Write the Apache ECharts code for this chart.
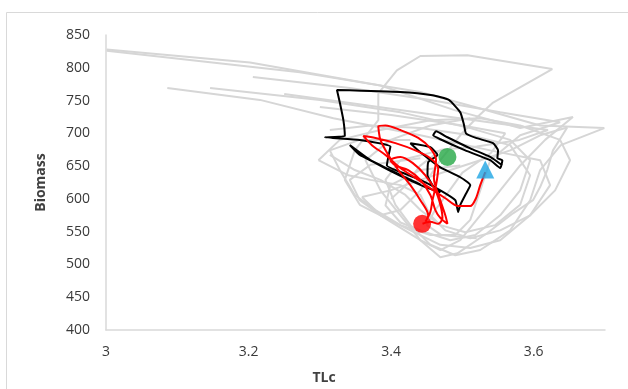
<!DOCTYPE html>
<html>
<head>
<meta charset="utf-8">
<script src="https://cdn.jsdelivr.net/npm/echarts@6/dist/echarts.min.js"></script>
<style>
html,body{margin:0;padding:0;background:#fff;}
#chart{width:628px;height:389px;}
</style>
</head>
<body>
<div id="chart"></div>
<script>
// Axis settings
var xTicks = [3, 3.2, 3.4, 3.6];
var yTicks = [400, 450, 500, 550, 600, 650, 700, 750, 800, 850];

// Gray background trajectories [TLc, Biomass]
var gray1 = [[3.001,828],[3.202,808],[3.385,773],[3.490,735],[3.581,708],[3.655,725],[3.616,690],[3.581,651],[3.553,613],[3.525,575],[3.497,537],[3.469,522],[3.441,537],[3.413,575],[3.385,613],[3.364,659],[3.399,690],[3.455,712],[3.511,723]];
var gray2 = [[3.001,826],[3.272,793],[3.441,763],[3.525,738],[3.609,712],[3.699,708],[3.638,682],[3.609,644],[3.595,598],[3.567,552],[3.525,522],[3.490,514],[3.455,530],[3.427,560],[3.406,591],[3.392,629],[3.413,659],[3.469,674]];
var gray3 = [[3.086,769],[3.216,751],[3.319,723],[3.441,697],[3.539,674],[3.609,659],[3.623,621],[3.595,575],[3.553,537],[3.511,525],[3.469,530],[3.427,552],[3.385,575],[3.356,598],[3.342,629],[3.371,652],[3.441,662]];
var gray4 = [[3.146,769],[3.300,751],[3.413,732],[3.511,708],[3.567,690],[3.595,659],[3.581,613],[3.553,575],[3.518,545],[3.483,537],[3.448,549],[3.413,564],[3.392,590],[3.399,621],[3.441,644],[3.497,651]];
var gray5 = [[3.206,786],[3.342,769],[3.455,751],[3.553,732],[3.637,717],[3.581,697],[3.539,659],[3.525,613],[3.511,568],[3.490,545],[3.455,545],[3.413,560],[3.378,583],[3.349,606],[3.328,644],[3.314,674],[3.356,690],[3.427,690]];
var gray6 = [[3.382,761],[3.408,796],[3.441,818],[3.507,819],[3.626,798],[3.543,747],[3.521,725],[3.497,697],[3.469,659],[3.441,613],[3.413,583],[3.385,575],[3.356,591],[3.335,629],[3.349,674],[3.382,720],[3.382,761]];
var gray7 = [[3.359,603],[3.385,575],[3.441,537],[3.469,511],[3.493,517],[3.535,548],[3.571,578],[3.599,598],[3.609,618],[3.619,644],[3.627,674],[3.647,709],[3.609,697],[3.567,674],[3.525,659],[3.483,644],[3.441,629],[3.399,613],[3.359,603]];
var gray8 = [[3.298,659],[3.328,690],[3.385,705],[3.455,720],[3.525,723],[3.581,712],[3.637,690],[3.651,659],[3.630,613],[3.595,575],[3.553,552],[3.511,540],[3.476,552],[3.455,575],[3.441,606],[3.413,621],[3.371,629],[3.340,636],[3.298,659]];
var gray9 = [[3.314,705],[3.371,712],[3.441,708],[3.511,697],[3.567,682],[3.595,636],[3.581,591],[3.546,560],[3.504,549],[3.469,560],[3.441,583],[3.420,606],[3.385,629],[3.349,644],[3.314,667]];
var gray10 = [[3.25,760],[3.35,745],[3.45,730],[3.55,715],[3.62,705],[3.58,690],[3.52,680],[3.47,675],[3.44,650],[3.42,620],[3.40,600]];
var gray11 = [[3.30,740],[3.40,728],[3.50,712],[3.56,700],[3.54,670],[3.50,640],[3.48,610],[3.46,580],[3.45,560],[3.47,545],[3.52,540]];

// Highlighted trajectories
var blackPath = [[3.556,651],[3.539,664],[3.511,677],[3.479,694],[3.463,703],[3.459,697],[3.469,691],[3.504,674],[3.539,659],[3.553,647],[3.556,659],[3.549,662],[3.550,674],[3.543,685],[3.519,693],[3.505,700],[3.502,714],[3.497,732],[3.481,751],[3.458,758],[3.413,763],[3.324,766],[3.328,747],[3.333,720],[3.335,696],[3.307,694],[3.356,690],[3.399,680],[3.396,664],[3.394,651],[3.413,641],[3.441,629],[3.469,613],[3.490,598],[3.494,580],[3.497,591],[3.504,606],[3.511,621],[3.497,633],[3.469,648],[3.441,671],[3.427,685],[3.455,679],[3.465,667],[3.452,656],[3.451,636],[3.458,621],[3.469,610],[3.448,618],[3.413,635],[3.371,659],[3.342,682],[3.356,667],[3.399,644],[3.441,622]];
var redPath = [[3.532,641],[3.525,621],[3.519,601],[3.511,589],[3.494,589],[3.476,601],[3.455,616],[3.434,632],[3.413,647],[3.392,667],[3.373,682],[3.361,696],[3.378,693],[3.406,685],[3.434,674],[3.455,662],[3.466,647],[3.463,621],[3.458,598],[3.455,580],[3.448,565],[3.452,575],[3.441,598],[3.427,621],[3.410,644],[3.396,667],[3.385,690],[3.382,711],[3.392,712],[3.413,705],[3.438,693],[3.455,677],[3.463,659],[3.460,632],[3.469,598],[3.476,575],[3.479,562],[3.469,571],[3.462,583],[3.455,606],[3.441,629],[3.424,644],[3.406,651],[3.399,659],[3.413,664],[3.430,655],[3.448,636],[3.462,613],[3.469,591],[3.472,571],[3.466,562],[3.455,565],[3.444,562]];

// Markers
var greenPoint = [[3.479, 664]];
var bluePoint = [[3.532, 645]];
var redPoint = [[3.4435, 562]];

var grays = [gray1, gray2, gray3, gray4, gray5, gray6, gray7, gray8, gray9, gray10, gray11];

var series = [];
grays.forEach(function (g) {
  series.push({type: 'line', data: g, showSymbol: false, symbol: 'none', silent: true,
    lineStyle: {color: '#d6d6d6', width: 2}, z: 1});
});
series.push({type: 'line', data: blackPath, symbol: 'none', smooth: 0.15, lineStyle: {color: '#000000', width: 2}, z: 3});
series.push({type: 'line', data: redPath, symbol: 'none', smooth: 0.3, lineStyle: {color: '#ff0000', width: 2}, z: 4});
series.push({type: 'scatter', data: greenPoint, symbol: 'circle', symbolSize: 18, itemStyle: {color: '#24a745'}, z: 6});
series.push({type: 'scatter', data: bluePoint, symbol: 'triangle', symbolSize: 18, itemStyle: {color: '#1ea5e3'}, z: 6});
series.push({type: 'scatter', data: redPoint, symbol: 'circle', symbolSize: 18, itemStyle: {color: '#ff0000'}, z: 6});

var chart = echarts.init(document.getElementById('chart'), null, {renderer: 'canvas'});
chart.setOption({
  animation: false,
  backgroundColor: '#ffffff',
  grid: {left: 106, right: 23, top: 35, bottom: 59, containLabel: false},
  xAxis: {
    type: 'value', min: 3, max: 3.7, interval: 0.2,
    axisLine: {show: true, lineStyle: {color: '#d9d9d9', width: 1.5}},
    axisTick: {show: false},
    splitLine: {show: false},
    axisLabel: {
      showMaxLabel: false, margin: 15,
      color: '#3a3a3a', fontSize: 14, fontFamily: 'Open Sans',
      formatter: function (v) {
        for (var i = 0; i < xTicks.length; i++) {
          if (Math.abs(xTicks[i] - v) < 1e-6) return String(xTicks[i]);
        }
        return '';
      }
    }
  },
  yAxis: {
    type: 'value', min: 400, max: 850, interval: 50,
    axisLine: {show: true, lineStyle: {color: '#d9d9d9', width: 1.5}},
    axisTick: {show: false},
    splitLine: {show: false},
    axisLabel: {margin: 16, color: '#3a3a3a', fontSize: 14, fontFamily: 'Open Sans',
      formatter: function (v) { return yTicks.indexOf(v) >= 0 ? String(v) : ''; }},
    name: 'Biomass', nameLocation: 'middle', nameGap: 58,
    nameTextStyle: {color: '#404040', fontSize: 14, fontWeight: 'bold', fontFamily: 'Open Sans'}
  },
  graphic: [
    {type: 'rect', shape: {x: 6.5, y: 12.5, width: 700, height: 500}, style: {fill: 'none', stroke: '#d9d9d9', lineWidth: 1}, z: -1, silent: true},
    {type: 'text', x: 324, y: 378, style: {text: 'TLc', fill: '#404040', font: 'bold 14px "Open Sans"', textAlign: 'center', textVerticalAlign: 'middle'}}
  ],
  series: series
});
</script>
</body>
</html>
